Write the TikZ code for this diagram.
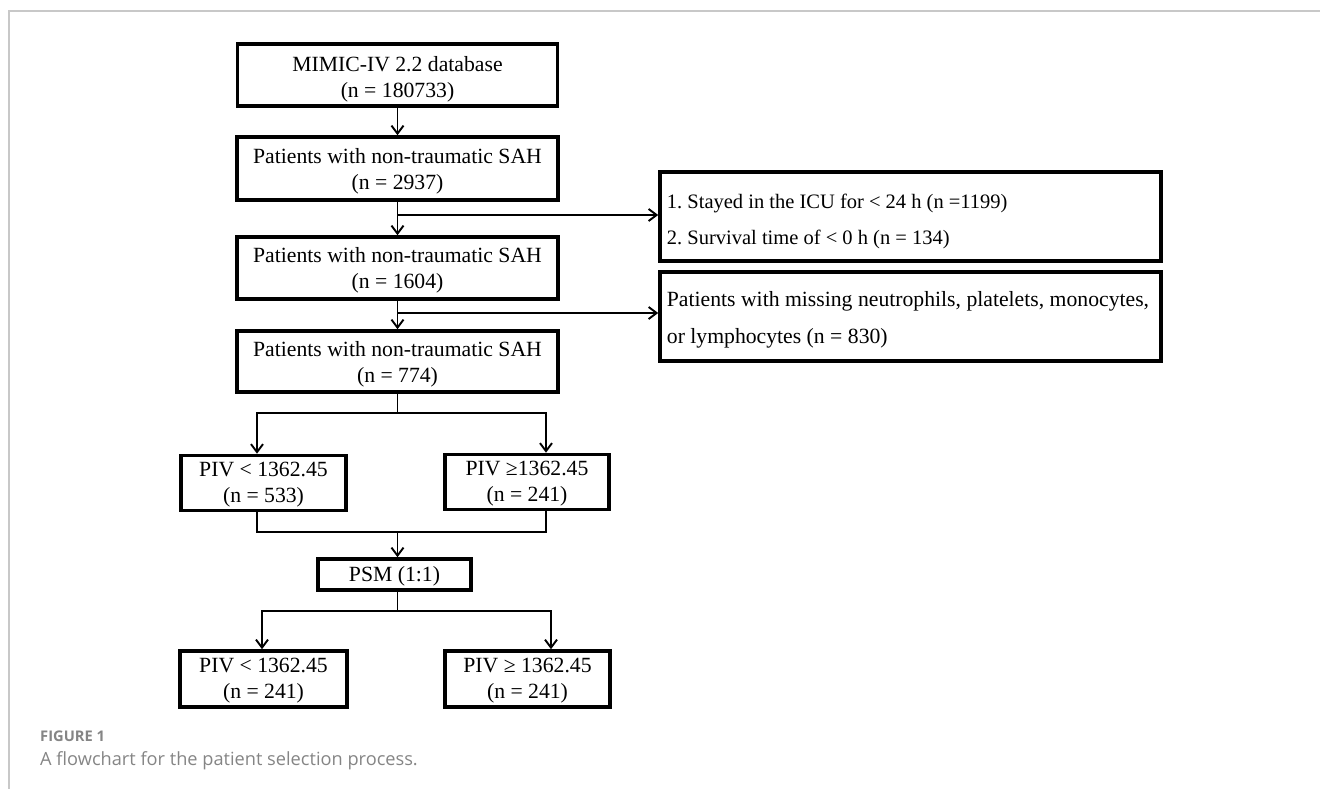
\documentclass[tikz,border=0pt]{standalone}
\usepackage{fontspec}
\setmainfont{Liberation Serif}
\newfontfamily\capfont{Open Sans}
\usetikzlibrary{arrows.meta}
\definecolor{capgray}{HTML}{858585}
\definecolor{framegray}{HTML}{C8C8C8}
\begin{document}
\begin{tikzpicture}[x=1pt,y=-1pt,
  box/.style={draw,line width=3.6pt,inner sep=0pt},
  txt/.style={inner sep=0pt,align=center,font=\fontsize{21.7}{26}\selectfont\frenchspacing,
    execute at begin node={\spaceskip=0pt\xspaceskip=0pt\relax}},
  exbox/.style={draw,line width=3.6pt,inner sep=0pt,minimum width=501pt,minimum height=89pt},
  extxt/.style={inner sep=0pt,anchor=west,align=left,font=\fontsize{#1}{36.5}\selectfont\frenchspacing,
    execute at begin node={\spaceskip=0pt\xspaceskip=0pt\relax}},
  conn/.style={line width=1.9pt},
  arr/.style={line width=1.9pt,-{Straight Barb[length=8pt,width=12pt]}}]
\useasboundingbox (0,0) rectangle (1320,789);
\draw[framegray,line width=1.3pt] (9,789) -- (9,11) -- (1320,11);

% main column
\node[box,minimum width=320pt,minimum height=62pt] (b1) at (397.5,75) {};
\node[txt] (b1t) at ([yshift=-4pt]b1.center) {MIMIC-IV 2.2 database\\(n = 180733)};
\node[box,minimum width=321pt,minimum height=63pt] (b2) at (397.5,168.5) {};
\node[txt] (b2t) at ([yshift=-2.5pt]b2.center) {Patients with non-traumatic SAH\\(n = 2937)};
\node[box,minimum width=321pt,minimum height=62pt] (b3) at (397.5,268) {};
\node[txt] (b3t) at ([yshift=-2.5pt]b3.center) {Patients with non-traumatic SAH\\(n = 1604)};
\node[box,minimum width=321pt,minimum height=61pt] (b4) at (397.5,361.5) {};
\node[txt] (b4t) at ([yshift=-2.5pt]b4.center) {Patients with non-traumatic SAH\\(n = 774)};

% exclusion boxes
\node[exbox] (e1) at (910.5,216.5) {};
\node[extxt=20.5] (e1t) at ([xshift=8.5pt,yshift=-5pt]e1.west) {1. Stayed in the ICU for < 24 h (n =1199)\\2. Survival time of < 0 h (n = 134)};
\node[exbox] (e2) at (910.5,316.5) {};
\node[extxt=21.7] (e2t) at ([xshift=8.5pt,yshift=-3.5pt]e2.west) {Patients with missing neutrophils, platelets, monocytes,\\or lymphocytes (n = 830)};

% groups
\node[box,minimum width=165pt,minimum height=55pt] (p1) at (263.5,483) {};
\node[txt] (p1t) at ([yshift=-2pt]p1.center) {PIV < 1362.45\\(n = 533)};
\node[box,minimum width=164pt,minimum height=55pt] (p2) at (527,482) {};
\node[txt] (p2t) at ([yshift=-2pt]p2.center) {PIV ≥1362.45\\(n = 241)};
\node[box,minimum width=153pt,minimum height=31pt] (psm) at (394.5,574.5) {};
\node[txt] (psmt) at ([yshift=-2pt]psm.center) {PSM (1:1)};
\node[box,minimum width=167pt,minimum height=56pt] (q1) at (263.5,679) {};
\node[txt] (q1t) at ([yshift=-2pt]q1.center) {PIV < 1362.45\\(n = 241)};
\node[box,minimum width=165pt,minimum height=56pt] (q2) at (527.5,679) {};
\node[txt] (q2t) at ([yshift=-2pt]q2.center) {PIV ≥ 1362.45\\(n = 241)};

% connectors
\coordinate (j1) at (397.5,215);
\coordinate (j2) at (397.5,313);
\draw[arr] (b1.south) -- (b2.north);
\draw[arr] (b2.south) -- (b3.north);
\draw[arr] (j1) -- (j1 -| e1.west);
\draw[arr] (b3.south) -- (b4.north);
\draw[arr] (j2) -- (j2 -| e2.west);

\coordinate (s1) at (397.5,413);
\coordinate (s1l) at (257,413);
\coordinate (s1r) at (546,413);
\draw[conn] (b4.south) -- (s1);
\draw[arr] (s1) -| (s1l |- p1.north);
\draw[arr] (s1) -| (s1r |- p2.north);

\coordinate (m1) at (397.5,532);
\draw[conn] (s1l |- p1.south) |- (m1);
\draw[conn] (s1r |- p2.south) |- (m1);
\draw[arr] (m1) -- (m1 |- psm.north);

\coordinate (s2) at (397.5,611);
\coordinate (s2l) at (262,611);
\coordinate (s2r) at (551,611);
\draw[conn] (s2 |- psm.south) -- (s2);
\draw[arr] (s2) -| (s2l |- q1.north);
\draw[arr] (s2) -| (s2r |- q2.north);

% caption
\node[anchor=base west,inner sep=0pt,font=\capfont\bfseries\fontsize{14.7}{17}\selectfont,text=capgray] (fig) at (40,741) {FIGURE 1};
\node[anchor=base west,inner sep=0pt,font=\capfont\fontsize{18.2}{22}\selectfont,text=capgray] (cap) at (40,765) {A flowchart for the patient selection process.};
\end{tikzpicture}
\end{document}
